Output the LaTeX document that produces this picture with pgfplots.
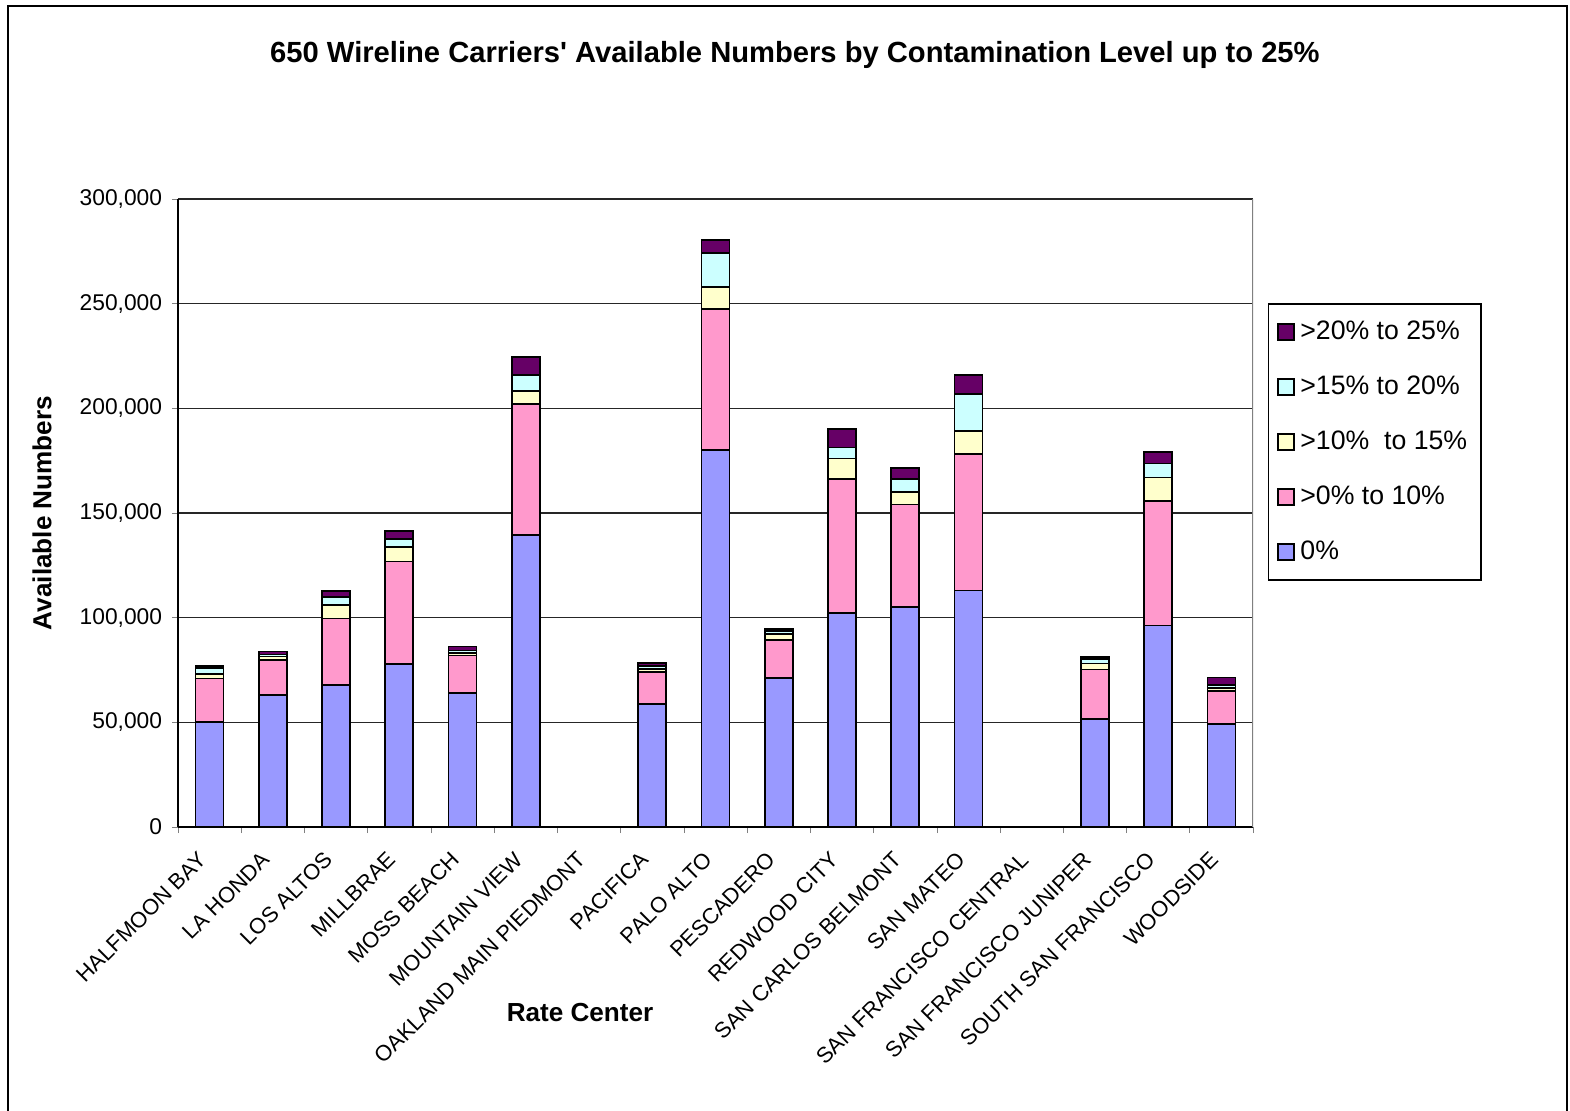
\documentclass[border=0pt]{standalone}
\usepackage{fontspec}
\setmainfont{Liberation Sans}
\usepackage{pgfplots}
\usepackage{pgfplotstable}
\pgfplotsset{compat=1.18}
\definecolor{cZero}{HTML}{9999FF}
\definecolor{cTen}{HTML}{FF99CC}
\definecolor{cFifteen}{HTML}{FFFFCC}
\definecolor{cTwenty}{HTML}{CCFFFF}
\definecolor{cTwentyFive}{HTML}{660066}

% available numbers per rate center, by contamination level
\pgfplotstableread{
idx zero ten fifteen twenty twentyfive
0  50000  21000  2200  2700 1000
1  63200  16600  1600  1000 1500
2  67800  31800  6400  3800 2800
3  77900  49000  6800  3800 3800
4  63900  18100  1000  1300 1900
5  139500 62500  6300  7700 8600
6  0      0      0     0    0
7  58800  15200  1500  1400 1400
8  180100 67300  10600 16200 6200
9  71200  18100  2900  1400 1000
10 102100 64100  9800  5300 8800
11 105100 48900  6000  6200 5400
12 112900 65400  11000 17400 9200
13 0      0      0     0    0
14 51600  23600  2900  2200 1000
15 96200  59400  11300 6800 5400
16 49200  15900  1400  1300 3600
}\datatable

\begin{document}
\begin{tikzpicture}
\path[use as bounding box] (-64.08pt,-101.88pt) rectangle (501.12pt,297.72pt);
\draw[line width=0.5pt] (-61.2pt,-103pt) -- (-61.2pt,295.56pt) -- (500.04pt,295.56pt) -- (500.04pt,-103pt);
\begin{axis}[
  at={(0,0)}, anchor=south west,
  scale only axis,
  width=387pt, height=226.1pt,
  ybar stacked,
  bar width=10.08pt,
  xmin=-0.5, xmax=16.5,
  ymin=0, ymax=300000,
  axis x line*=bottom,
  axis y line*=left,
  axis line style={black, line width=0.5pt},
  xtick={0,...,16},
  xticklabels={HALFMOON BAY, LA HONDA, LOS ALTOS, MILLBRAE, MOSS BEACH, MOUNTAIN VIEW, OAKLAND MAIN PIEDMONT, PACIFICA, PALO ALTO, PESCADERO, REDWOOD CITY, SAN CARLOS BELMONT, SAN MATEO, SAN FRANCISCO CENTRAL, SAN FRANCISCO JUNIPER, SOUTH SAN FRANCISCO, WOODSIDE},
  major x tick style={draw=none},
  minor xtick={-0.5,0.5,...,16.5},
  minor tick length=2.2pt,
  major tick length=2.2pt,
  tick align=outside,
  ytick={0,50000,...,300000},
  scaled y ticks=false,
  yticklabel style={/pgf/number format/fixed, /pgf/number format/1000 sep={,}, /pgf/number format/assume math mode=true, font=\fontsize{8.2}{9.8}\selectfont},
  ymajorgrids,
  major grid style={black!85, line width=0.45pt},
  x tick label style={xshift=-4.6pt, yshift=-4.6pt, rotate=45, anchor=north east, font=\fontsize{7.9}{9.5}\selectfont, inner sep=1pt},
  xlabel={Rate Center},
  ylabel={Available Numbers},
  xlabel style={at={(axis description cs:0.374,-0.296)}, anchor=center, font=\bfseries\fontsize{9.4}{11}\selectfont},
  ylabel style={at={(axis description cs:-0.1265,0.5)}, anchor=center, font=\bfseries\fontsize{9.4}{11}\selectfont},
  reverse legend,
  legend cell align=left,
  legend image code/.code={\draw[#1, line width=0.6pt] (0pt,-2.9pt) rectangle (5.8pt,2.9pt);},
  legend style={at={(axis description cs:1.014,0.834)}, anchor=north west, draw=black, line width=0.5pt,
    font=\fontsize{9.6}{11}\selectfont, row sep=7.6pt, inner xsep=3pt, inner ysep=4pt},
  every axis plot/.append style={draw=black, line width=0.6pt},
]
\addplot[fill=cZero] table[x=idx, y=zero] {\datatable};
\addlegendentry{0\%}
\addplot[fill=cTen] table[x=idx, y=ten] {\datatable};
\addlegendentry{>0\% to 10\%}
\addplot[fill=cFifteen] table[x=idx, y=fifteen] {\datatable};
\addlegendentry{>10\%\ \ to 15\%}
\addplot[fill=cTwenty] table[x=idx, y=twenty] {\datatable};
\addlegendentry{>15\% to 20\%}
\addplot[fill=cTwentyFive] table[x=idx, y=twentyfive] {\datatable};
\addlegendentry{>20\% to 25\%}
\draw[black!50, line width=0.5pt] (rel axis cs:1,0) -- (rel axis cs:1,1);
\end{axis}
\node[font=\bfseries\fontsize{10.5}{12}\selectfont] at (222.1pt,277.9pt) {650 Wireline Carriers\textquotesingle\ Available Numbers by Contamination Level up to 25\%};
\end{tikzpicture}
\end{document}
